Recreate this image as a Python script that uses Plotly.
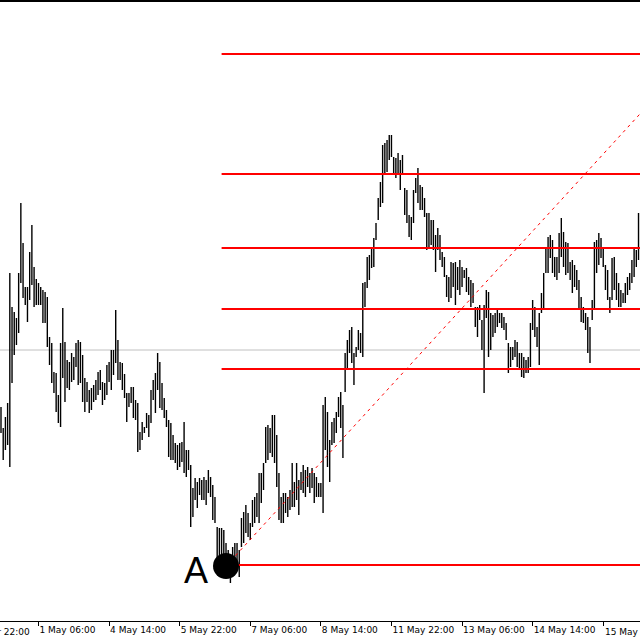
import plotly.graph_objects as go

# ---- data (price in points) ----
highs = [293,272,283,297,427,393,388,382,427,497,457,413,413,448,475,433,421,417,413,410,
         408,403,363,357,328,327,305,357,392,358,340,338,347,343,357,360,358,345,322,318,
         310,312,315,320,328,330,318,317,335,338,350,350,390,360,338,337,326,307,307,313,
         313,300,297,268,278,273,287,285,310,320,327,347,338,317,302,290,280,277,265,257,
         255,257,258,278,250,250,235,212,222,218,222,220,223,220,230,223,215,203,173,172,
         172,170,157,150,137,153,157,157,150,182,188,195,187,177,200,203,207,227,227,237,
         273,275,272,285,285,265,227,203,207,207,203,210,237,218,237,220,228,235,230,233,
         227,232,227,223,217,217,295,303,288,260,278,282,288,303,308,295,347,360,370,373,
         347,353,370,367,417,418,443,445,452,462,477,502,518,555,557,560,565,565,543,542,
         547,540,545,512,510,485,483,510,522,532,515,513,502,487,487,480,480,465,472,465,
         448,443,425,423,438,437,438,433,440,433,430,432,423,420,417,393,393,395,380,395,
         410,408,387,385,387,390,387,387,383,377,357,353,353,360,358,347,347,343,340,343,
         377,400,393,373,387,407,427,453,463,465,460,443,443,467,482,468,458,457,438,440,
         435,430,420,403,393,387,383,373,400,458,460,467,462,452,435,430,403,442,443,427,
         417,410,407,417,423,427,440,453,450,487]
lows = [267,240,250,255,233,317,345,355,367,417,402,395,378,400,415,393,395,395,395,377,
        377,353,335,317,307,288,277,273,322,298,312,310,318,320,333,315,317,298,288,298,
        287,290,298,300,305,310,295,300,305,318,310,325,337,320,320,310,302,278,293,297,
        282,280,248,250,260,267,272,263,277,300,287,310,292,290,282,273,243,240,240,237,
        230,233,238,227,223,230,173,183,200,192,205,200,200,195,207,203,180,177,140,137,
        140,137,137,130,117,137,130,137,123,153,157,167,163,160,173,177,183,177,197,210,
        237,240,247,243,237,213,180,177,177,187,183,190,193,193,200,185,210,207,203,213,
        207,212,197,203,203,203,187,250,233,218,255,257,267,283,272,242,308,332,347,337,
        315,343,350,347,343,393,412,420,432,433,460,480,493,497,525,528,540,543,527,522,
        527,510,525,485,477,463,460,477,507,497,490,490,483,450,452,455,450,428,450,440,
        433,423,403,398,402,413,395,410,405,413,422,408,405,393,397,373,363,380,350,307,
        382,343,350,363,367,373,377,372,370,360,327,333,340,343,333,330,323,322,327,327,
        333,370,363,353,335,387,390,427,427,442,427,423,420,427,443,433,425,427,420,407,
        413,410,390,378,377,370,347,337,380,390,427,435,442,433,410,400,387,400,410,400,
        393,393,397,397,405,410,417,423,433,440]

tick_bars = [17, 49, 81, 113, 145, 177, 209, 241, 273]
tick_labels = ["1 May 06:00", "4 May 14:00", "5 May 22:00", "7 May 06:00", "8 May 14:00",
               "11 May 22:00", "13 May 06:00", "14 May 14:00", "15 May 22:00"]
first_label = "29 Apr 22:00"

fib_levels = [135, 331, 391, 452, 526, 646]
fib_start_bar = 100
price_line = 350
trend_x = [102, 300]
trend_y = [134, 611]
point_a_bar = 102
point_a_price = 134

x_range = [-0.453, 289.67]
y_range = [79, 699]

# ---- build ----
bx, by = [], []
for i, (h, l) in enumerate(zip(highs, lows)):
    bx += [i, i, None]
    by += [l, h, None]

fig = go.Figure()

fig.add_trace(go.Scatter(x=[x_range[0] - 5, x_range[1] + 5], y=[price_line, price_line],
                         mode="lines", line=dict(color="#c0c0c0", width=1), hoverinfo="skip"))

fig.add_trace(go.Scatter(x=bx, y=by, mode="lines", line=dict(color="black", width=1.4),
                         hoverinfo="skip", connectgaps=False))

for lv in fib_levels:
    fig.add_trace(go.Scatter(x=[fib_start_bar, x_range[1] + 10], y=[lv, lv], mode="lines",
                             line=dict(color="#ff0000", width=2), hoverinfo="skip"))

fig.add_trace(go.Scatter(x=trend_x, y=trend_y, mode="lines",
                         line=dict(color="#ff0000", width=1, dash="3px,4px"), hoverinfo="skip"))

fig.add_trace(go.Scatter(x=[point_a_bar], y=[point_a_price], mode="markers",
                         marker=dict(color="black", size=26, line=dict(width=0)), hoverinfo="skip"))

fig.add_annotation(x=point_a_bar - 13.6, y=point_a_price - 4, xref="x", yref="y", text="A",
                   showarrow=False, font=dict(family="Liberation Sans, Arial", size=36, color="black"),
                   xanchor="center", yanchor="middle")

tick_font = dict(family="DejaVu Sans", size=9, color="black")
# partially visible labels at the left and right edges
fig.add_annotation(x=0, y=0, xref="x", yref="paper", text=first_label,
                   showarrow=False, xanchor="left", yanchor="top", xshift=-32, yshift=-4,
                   font=tick_font)
fig.add_annotation(x=tick_bars[-1], y=0, xref="x", yref="paper", text=tick_labels[-1],
                   showarrow=False, xanchor="left", yanchor="top", xshift=0, yshift=-4,
                   font=tick_font)

fig.add_shape(type="line", xref="paper", yref="paper", x0=0, x1=1, y0=1, y1=1,
              line=dict(color="black", width=2))

fig.update_layout(
    width=640, height=640,
    margin=dict(l=0, r=0, t=1, b=19, autoexpand=False),
    paper_bgcolor="white", plot_bgcolor="white",
    showlegend=False,
    xaxis=dict(range=x_range, showgrid=False, zeroline=False, showline=True, linecolor="black",
               linewidth=1, ticks="outside", ticklen=4, tickcolor="black", tickwidth=1,
               tickvals=tick_bars, ticktext=tick_labels[:-1] + [""],
               ticklabelposition="outside right",
               tickangle=0, automargin=False, tickfont=tick_font, fixedrange=True),
    yaxis=dict(range=y_range, visible=False, fixedrange=True, automargin=False),
)

fig.write_html("out.html", config={"displayModeBar": False},
               post_script="document.body.style.margin='0';document.body.style.overflow='hidden';")
